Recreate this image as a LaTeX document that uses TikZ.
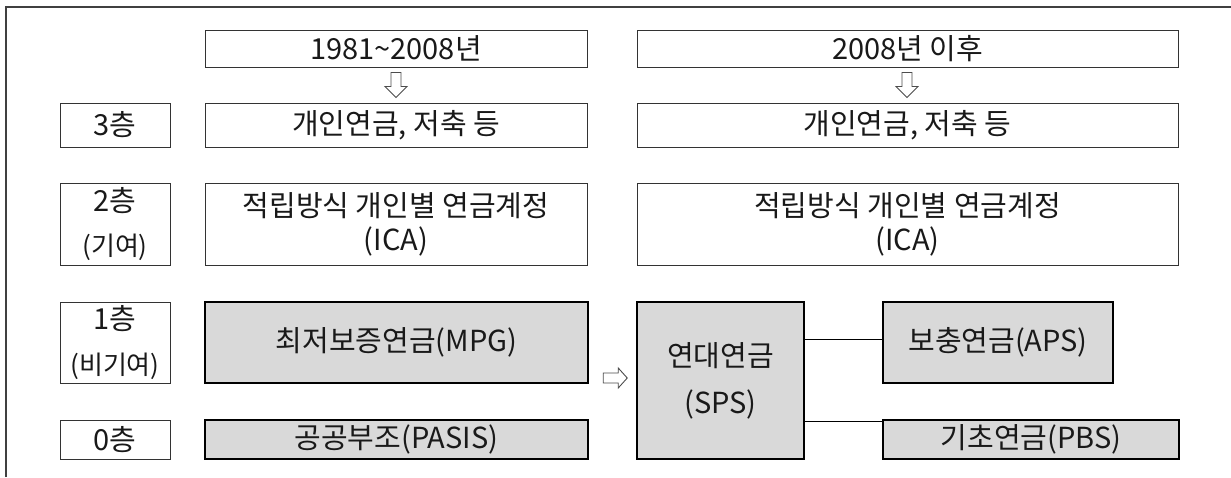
\documentclass[tikz,border=0pt]{standalone}
\usepackage{fontspec}
\setmainfont{Noto Sans CJK KR}
\usetikzlibrary{calc}
\tikzset{
  thinbox/.style={draw=black!80, line width=1pt, inner sep=0pt, align=center, text=black!90,
    font=\fontsize{29}{33}\selectfont},
  thickbox/.style={draw=black, line width=2.5pt, fill=gray!30, inner sep=0pt, align=center, text=black!90,
    font=\fontsize{29}{33}\selectfont},
  conn/.style={draw=black, line width=0.9pt},
  hollow/.style={draw=black!70, line width=0.9pt, fill=white},
  pics/downarr/.style={code={\path[hollow] (-5,0) -- (5,0) -- (5,14) -- (11,14) -- (0,25) -- (-11,14) -- (-5,14) -- cycle;}},
  pics/rightarr/.style={code={\path[hollow] (0,-5) -- (15,-5) -- (15,-10) -- (24,0) -- (15,10) -- (15,5) -- (0,5) -- cycle;}},
}
\begin{document}
\begin{tikzpicture}[x=1pt,y=-1pt]
\useasboundingbox (0,0) rectangle (1231,477);
% frame (top and left edges visible)
\draw[black!75, line width=1.2pt] (6,477) -- (6,7) -- (1231,7);

% headers
\node[thinbox, minimum width=382pt, minimum height=37pt] (hL) at (396,48.5) {1981\textasciitilde 2008년};
\node[thinbox, minimum width=541pt, minimum height=37pt] (hR) at (907.5,48.5) {2008년 이후};

% layer labels
\node[thinbox, minimum width=110pt, minimum height=44pt] (l3) at (115,125) {3층};
\node[thinbox, minimum width=110pt, minimum height=82pt, font=\fontsize{29}{44}\selectfont] (l2) at (115,224) {2층\\{\fontsize{26}{44}\selectfont (기여)}};
\node[thinbox, minimum width=110pt, minimum height=81pt, font=\fontsize{29}{45}\selectfont] (l1) at (115,342.5) {1층\\{\fontsize{26}{45}\selectfont (비기여)}};
\node[thinbox, minimum width=110pt, minimum height=39pt] (l0) at (115,439.5) {0층};

% row 3
\node[thinbox, minimum width=382pt, minimum height=44pt] (r3L) at (396,125) {개인연금, 저축 등};
\node[thinbox, minimum width=541pt, minimum height=44pt] (r3R) at (907.5,125) {개인연금, 저축 등};

% row 2
\node[thinbox, minimum width=382pt, minimum height=82pt, font=\fontsize{29}{34}\selectfont] (r2L) at (396,224) {적립방식 개인별 연금계정\\(ICA)};
\node[thinbox, minimum width=541pt, minimum height=82pt, font=\fontsize{29}{34}\selectfont] (r2R) at (907.5,224) {적립방식 개인별 연금계정\\(ICA)};

% row 1 / 0 left
\node[thickbox, minimum width=383pt, minimum height=81pt] (mpg) at (396.5,342.5) {최저보증연금(MPG)};
\node[thickbox, minimum width=383pt, minimum height=39pt] (pasis) at (396.5,439.5) {공공부조(PASIS)};

% right side
\node[thickbox, minimum width=167pt, minimum height=157pt, font=\fontsize{29}{47}\selectfont] (sps) at (720.5,380.5) {연대연금\\(SPS)};
\node[thickbox, minimum width=230pt, minimum height=81pt] (aps) at (998,342.5) {보충연금(APS)};
\node[thickbox, minimum width=296pt, minimum height=39pt] (pbs) at (1031,439.5) {기초연금(PBS)};

% connectors
\coordinate (c1) at ([yshift=3.5pt]aps.west);
\coordinate (c2) at ([yshift=-3pt]pbs.north west);
\draw[conn] (sps.east |- c1) -- (c1);
\draw[conn] (sps.east |- c2) -- (c2);

% hollow arrows
\pic at ($(hL.south)+(0,5)$) {downarr};
\pic at ($(hR.south)+(-0.5,5)$) {downarr};
\pic at ($(mpg.east)+(14,35.5)$) {rightarr};
\end{tikzpicture}
\end{document}
